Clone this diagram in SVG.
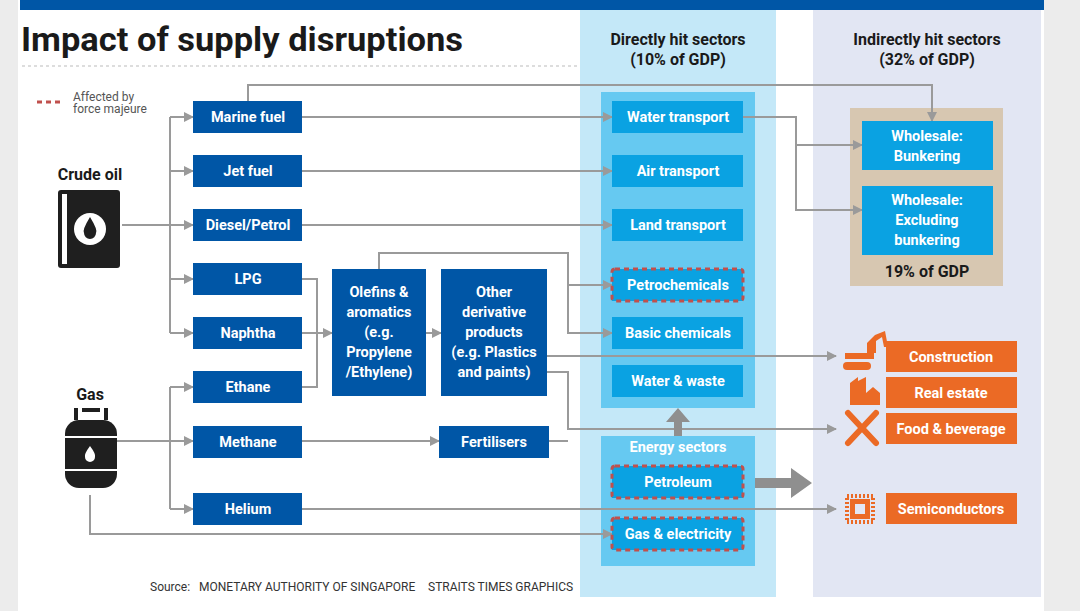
<svg xmlns="http://www.w3.org/2000/svg" width="1080" height="611" viewBox="0 0 1080 611">
<style>
text{font-family:"Roboto","Liberation Sans",sans-serif}
.n{fill:#0056a6}.s{fill:#0aa2e2}.o{fill:#eb6a25}
.t{fill:#fff;font-weight:bold;font-size:14.5px;text-anchor:middle}
.h{fill:#1a1a1a;font-weight:bold;font-size:16px;text-anchor:middle}
.fm{fill:none;stroke:#c0504d;stroke-width:3;stroke-dasharray:5 4}
.c{fill:none;stroke:#9a9a9a;stroke-width:2}
.ic{fill:#eb6a25}
</style>
<defs><marker id="a" viewBox="0 0 10 10" refX="9" refY="5" markerWidth="5" markerHeight="5" orient="auto" markerUnits="strokeWidth"><path d="M0,0L10,5L0,10z" fill="#9a9a9a"/></marker></defs>
<rect width="1080" height="611" fill="#fff"/>
<rect x="0" y="0" width="18" height="611" fill="#ececec"/>
<rect x="1044" y="0" width="36" height="611" fill="#ececec"/>
<rect x="20" y="0" width="1024" height="10" fill="#0056a6"/>
<rect x="580" y="10" width="196" height="587" fill="#c4e8f8"/>
<rect x="813" y="10" width="228" height="587" fill="#e2e6f3"/>
<rect x="601" y="92" width="154" height="316" fill="#66c9f1"/>
<rect x="601" y="436" width="154" height="130" fill="#66c9f1"/>
<rect x="850" y="108" width="153" height="178" fill="#d7c7b1"/>
<text x="21" y="51" font-size="34" font-weight="bold" fill="#1a1a1a" textLength="442" lengthAdjust="spacingAndGlyphs">Impact of supply disruptions</text>
<line x1="22" y1="66" x2="580" y2="66" stroke="#bbb" stroke-dasharray="3 3"/>
<line x1="37" y1="102" x2="64" y2="102" class="fm"/>
<text x="73" y="101" font-size="12" fill="#555">Affected by</text>
<text x="73" y="113" font-size="12" fill="#555">force majeure</text>
<text x="678" y="45" class="h">Directly hit sectors</text>
<text x="678" y="65" class="h">(10% of GDP)</text>
<text x="927" y="45" class="h">Indirectly hit sectors</text>
<text x="927" y="65" class="h">(32% of GDP)</text>
<text x="90" y="180" class="h" font-size="17">Crude oil</text>
<text x="90" y="400" class="h" font-size="17">Gas</text>
<text x="150" y="591" font-size="12" fill="#333">Source:</text>
<text x="199" y="591" font-size="12" fill="#333">MONETARY AUTHORITY OF SINGAPORE</text>
<text x="428" y="591" font-size="12" fill="#333">STRAITS TIMES GRAPHICS</text>
<g id="crude-oil"><rect x="58" y="190" width="62" height="78" rx="3" fill="#1f1f1f"/><rect x="62" y="194" width="5" height="70" fill="#fff"/><circle cx="90" cy="229" r="16" fill="#fff"/><path d="M90,217 Q98,230 96,233 A6,6 0 0 1 84,233 Q82,230 90,217z" fill="#1f1f1f"/></g>
<g id="gas"><rect x="82" y="408" width="18" height="4" fill="#1f1f1f"/><rect x="74" y="408" width="4" height="12" fill="#1f1f1f"/><rect x="104" y="408" width="4" height="12" fill="#1f1f1f"/><rect x="65" y="420" width="52" height="68" rx="14" fill="#1f1f1f"/><rect x="65" y="436" width="52" height="2" fill="#fff"/><rect x="65" y="469" width="52" height="2" fill="#fff"/><path d="M90,446 Q96,454 95,457 A5,5 0 0 1 85,457 Q84,454 90,446z" fill="#fff"/></g>
<g id="connectors">
<path class="c" d="M122,225H170"/>
<path class="c" d="M170,117V333"/>
<path class="c" marker-end="url(#a)" d="M170,117H193"/>
<path class="c" marker-end="url(#a)" d="M170,171H193"/>
<path class="c" marker-end="url(#a)" d="M170,225H193"/>
<path class="c" marker-end="url(#a)" d="M170,279H193"/>
<path class="c" marker-end="url(#a)" d="M170,333H193"/>
<path class="c" d="M117,441H170"/>
<path class="c" d="M170,387V509"/>
<path class="c" marker-end="url(#a)" d="M170,387H193"/>
<path class="c" marker-end="url(#a)" d="M170,441H193"/>
<path class="c" marker-end="url(#a)" d="M170,509H193"/>
<path class="c" marker-end="url(#a)" d="M90,495V534H612"/>
<path class="c" marker-end="url(#a)" d="M302,117H612"/>
<path class="c" marker-end="url(#a)" d="M248,101V85H932V121"/>
<path class="c" marker-end="url(#a)" d="M302,171H612"/>
<path class="c" marker-end="url(#a)" d="M302,225H612"/>
<path class="c" marker-end="url(#a)" d="M743,117H796V145H862"/>
<path class="c" marker-end="url(#a)" d="M796,145V210H862"/>
<path class="c" d="M302,279H317V387H302"/>
<path class="c" marker-end="url(#a)" d="M302,333H332"/>
<path class="c" marker-end="url(#a)" d="M426,333H441"/>
<path class="c" marker-end="url(#a)" d="M379,269V253H568V333H612"/>
<path class="c" marker-end="url(#a)" d="M568,285H612"/>
<path class="c" marker-end="url(#a)" d="M547,356H836"/>
<path class="c" marker-end="url(#a)" d="M547,372H568V429H836"/>
<path class="c" d="M549,441H568"/>
<path class="c" marker-end="url(#a)" d="M302,441H439"/>
<path class="c" marker-end="url(#a)" d="M302,509H836"/>
<path d="M674,436V422H666L678,408L690,422H682V436z" fill="#8f8f8f"/>
<path d="M755,478H791V468L812,483L791,498V488H755z" fill="#8f8f8f"/>
</g>
<g id="marine-fuel"><rect class="n" x="193" y="101" width="109" height="32"/><text class="t" x="248" y="122">Marine fuel</text></g>
<g id="jet-fuel"><rect class="n" x="193" y="155" width="109" height="32"/><text class="t" x="248" y="176">Jet fuel</text></g>
<g id="diesel"><rect class="n" x="193" y="209" width="109" height="32"/><text class="t" x="248" y="230">Diesel/Petrol</text></g>
<g id="lpg"><rect class="n" x="193" y="263" width="109" height="32"/><text class="t" x="248" y="284">LPG</text></g>
<g id="naphtha"><rect class="n" x="193" y="317" width="109" height="32"/><text class="t" x="248" y="338">Naphtha</text></g>
<g id="ethane"><rect class="n" x="193" y="371" width="109" height="32"/><text class="t" x="248" y="392">Ethane</text></g>
<g id="methane"><rect class="n" x="193" y="426" width="109" height="32"/><text class="t" x="248" y="447">Methane</text></g>
<g id="helium"><rect class="n" x="193" y="493" width="109" height="32"/><text class="t" x="248" y="514">Helium</text></g>
<g id="olefins"><rect class="n" x="332" y="269" width="94" height="127"/><text class="t" x="379" y="297">Olefins &amp;<tspan x="379" dy="20">aromatics</tspan><tspan x="379" dy="20">(e.g.</tspan><tspan x="379" dy="20">Propylene</tspan><tspan x="379" dy="20">/Ethylene)</tspan></text></g>
<g id="other"><rect class="n" x="441" y="269" width="106" height="127"/><text class="t" x="494" y="297">Other<tspan x="494" dy="20">derivative</tspan><tspan x="494" dy="20">products</tspan><tspan x="494" dy="20">(e.g. Plastics</tspan><tspan x="494" dy="20">and paints)</tspan></text></g>
<g id="fertilisers"><rect class="n" x="439" y="426" width="110" height="32"/><text class="t" x="494" y="447">Fertilisers</text></g>
<g id="water-transport"><rect class="s" x="612" y="101" width="131" height="32"/><text class="t" x="678" y="122">Water transport</text></g>
<g id="air-transport"><rect class="s" x="612" y="155" width="131" height="32"/><text class="t" x="678" y="176">Air transport</text></g>
<g id="land-transport"><rect class="s" x="612" y="209" width="131" height="32"/><text class="t" x="678" y="230">Land transport</text></g>
<g id="petrochemicals"><rect class="s" x="612" y="269" width="131" height="32"/><rect class="fm" x="612" y="269" width="131" height="32" rx="3"/><text class="t" x="678" y="290">Petrochemicals</text></g>
<g id="basic-chemicals"><rect class="s" x="612" y="317" width="131" height="32"/><text class="t" x="678" y="338">Basic chemicals</text></g>
<g id="water-waste"><rect class="s" x="612" y="365" width="131" height="32"/><text class="t" x="678" y="386">Water &amp; waste</text></g>
<text class="t" x="678" y="452" fill="#e8f6fd">Energy sectors</text>
<g id="petroleum"><rect class="s" x="612" y="466" width="131" height="32"/><rect class="fm" x="612" y="466" width="131" height="32" rx="3"/><text class="t" x="678" y="487">Petroleum</text></g>
<g id="gas-electricity"><rect class="s" x="612" y="518" width="131" height="32"/><rect class="fm" x="612" y="518" width="131" height="32" rx="3"/><text class="t" x="678" y="539">Gas &amp; electricity</text></g>
<g id="wholesale-bunkering"><rect class="s" x="862" y="121" width="131" height="49"/><text class="t" x="927" y="141">Wholesale:<tspan x="927" dy="20">Bunkering</tspan></text></g>
<g id="wholesale-excluding"><rect class="s" x="862" y="186" width="131" height="69"/><text class="t" x="927" y="205">Wholesale:<tspan x="927" dy="20">Excluding</tspan><tspan x="927" dy="20">bunkering</tspan></text></g>
<text x="927" y="277" class="h" font-size="14.5">19% of GDP</text>
<g id="construction"><path class="ic" d="M845,353h22v-10l8,-8l10,-4l3,16h-4l-2,-10l-6,4v12h-2v6h-29z"/><rect class="ic" x="843" y="362" width="28" height="8" rx="4"/><rect class="o" x="886" y="341" width="131" height="31"/><text class="t" x="951" y="362">Construction</text></g>
<g id="real-estate"><path class="ic" d="M850,405v-22l8,-6v4l8,-4v28z"/><path class="ic" d="M866,405v-12l7,-6l7,6v12z"/><rect class="o" x="886" y="377" width="131" height="31"/><text class="t" x="951" y="398">Real estate</text></g>
<g id="food-beverage"><path d="M848,413L876,443M876,413L848,443" stroke="#eb6a25" stroke-width="6" stroke-linecap="round"/><rect class="o" x="886" y="413" width="131" height="31"/><text class="t" x="951" y="434">Food &amp; beverage</text></g>
<g id="semiconductors"><rect x="847" y="496" width="26" height="26" fill="none" stroke="#eb6a25" stroke-width="4" stroke-dasharray="2 2"/><rect x="850" y="499" width="20" height="20" fill="#eb6a25"/><rect x="855" y="504" width="10" height="10" fill="#e2e6f3"/><rect class="o" x="886" y="493" width="131" height="31"/><text class="t" x="951" y="514">Semiconductors</text></g>
</svg>
